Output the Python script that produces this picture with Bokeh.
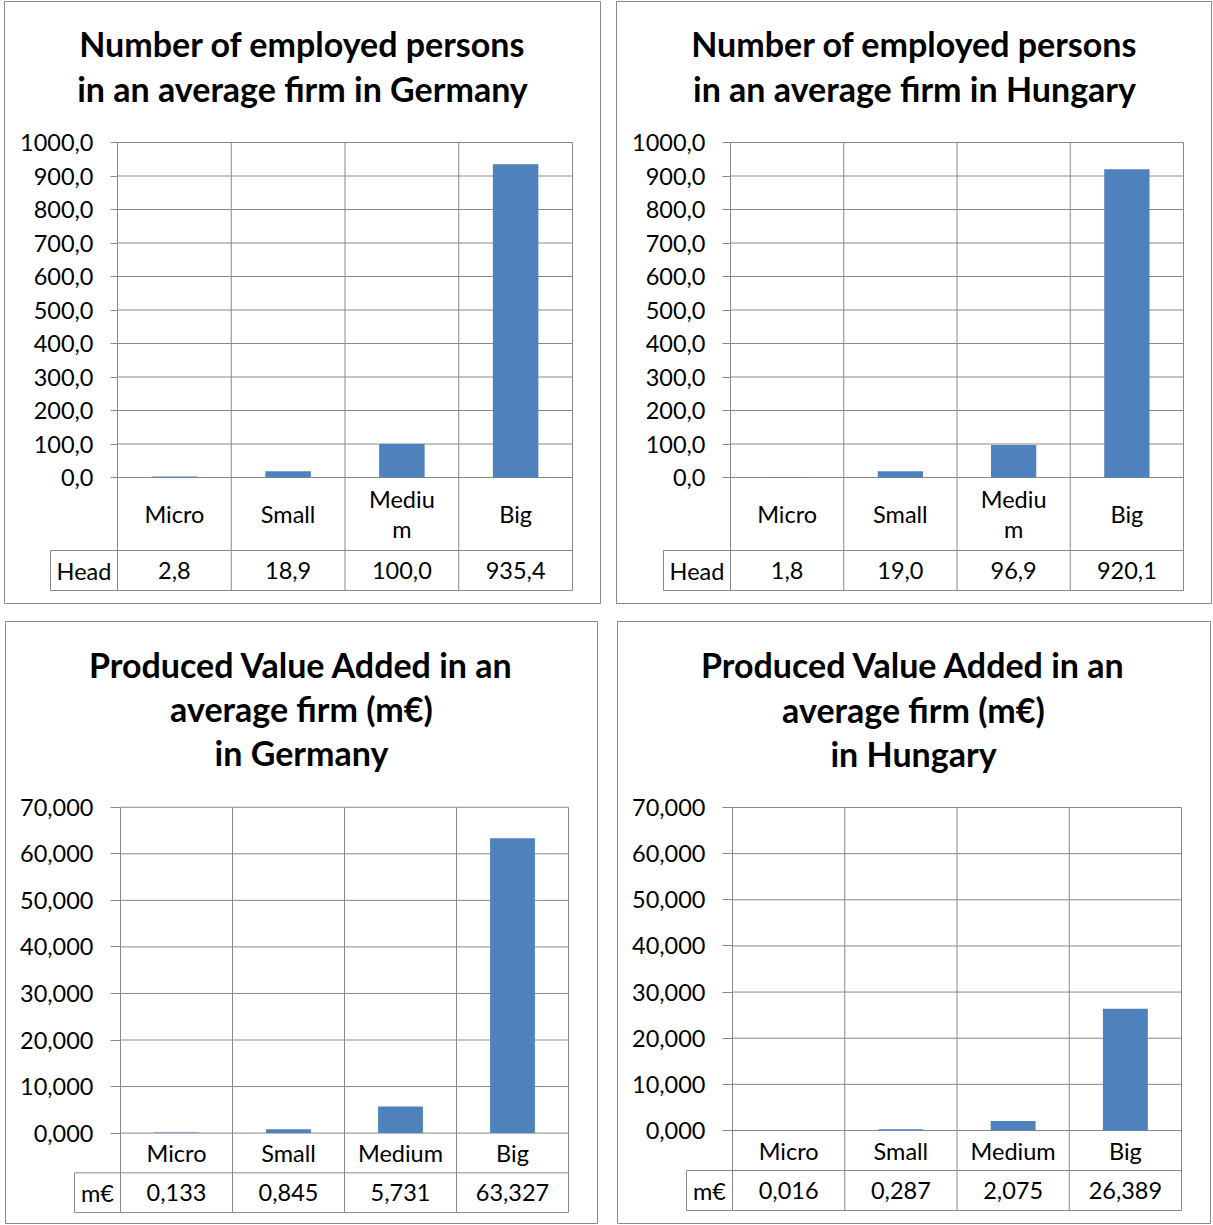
from bokeh.plotting import figure
from bokeh.layouts import column, row
from bokeh.models import Range1d, FixedTicker
from bokeh.core.properties import value
from bokeh.embed import file_html
from bokeh.resources import INLINE

# ---------------- data ----------------
CATEGORIES = ["Micro", "Small", "Medium", "Big"]
CAT_LABELS_EMP = ["Micro", "Small", "Mediu\nm", "Big"]
CAT_LABELS_VA = ["Micro", "Small", "Medium", "Big"]

GER_EMP = [2.8, 18.9, 100.0, 935.4]
HUN_EMP = [1.8, 19.0, 96.9, 920.1]
GER_VA = [0.133, 0.845, 5.731, 63.327]
HUN_VA = [0.016, 0.287, 2.075, 26.389]

GER_EMP_TEXT = ["2,8", "18,9", "100,0", "935,4"]
HUN_EMP_TEXT = ["1,8", "19,0", "96,9", "920,1"]
GER_VA_TEXT = ["0,133", "0,845", "5,731", "63,327"]
HUN_VA_TEXT = ["0,016", "0,287", "2,075", "26,389"]

EMP_TICKS = [0, 100, 200, 300, 400, 500, 600, 700, 800, 900, 1000]
EMP_TICK_LABELS = ["0,0", "100,0", "200,0", "300,0", "400,0", "500,0",
                   "600,0", "700,0", "800,0", "900,0", "1000,0"]
VA_TICKS = [0, 10, 20, 30, 40, 50, 60, 70]
VA_TICK_LABELS = ["0,000", "10,000", "20,000", "30,000", "40,000",
                  "50,000", "60,000", "70,000"]

TITLE_GER_EMP = ["Number of employed persons", "in an average firm in Germany"]
TITLE_HUN_EMP = ["Number of employed persons", "in an average firm in Hungary"]
TITLE_GER_VA = ["Produced Value Added in an", "average firm (m€)", "in Germany"]
TITLE_HUN_VA = ["Produced Value Added in an", "average firm (m€)", "in Hungary"]

ROW_LABEL_EMP = "Head"
ROW_LABEL_VA = "m€"

# ---------------- layout (pixels on the page) ----------------
LAYOUT = {
    "TL": dict(canvas=(0, 0, 608, 610), panel=(4, 1, 600, 603),
               plot=(117, 142, 572, 477), cat_bottom=550, table_bottom=590,
               head_left=50, tick_out=7, title_x=302, title_y=[43, 88]),
    "TR": dict(canvas=(608, 0, 1213, 610), panel=(616, 1, 1211, 603),
               plot=(730, 142, 1183, 477), cat_bottom=550, table_bottom=590,
               head_left=663, tick_out=8, title_x=914, title_y=[43, 88]),
    "BL": dict(canvas=(0, 610, 608, 1225), panel=(5, 617, 597, 1223),
               plot=(120, 804, 568, 1132), cat_bottom=1172, table_bottom=1212,
               head_left=74, tick_out=10, title_x=301, title_y=[660, 705, 749]),
    "BR": dict(canvas=(608, 610, 1213, 1225), panel=(617, 621, 1210, 1223),
               plot=(732, 807, 1181, 1130), cat_bottom=1170, table_bottom=1210,
               head_left=686, tick_out=10, title_x=913, title_y=[664, 709, 753]),
}

GRID = "#898989"
BAR = "#4F81BD"
FONT = "Lato"
LABEL_SIZE = "23.5px"
TITLE_SIZE = "34px"


def make_panel(cfg, values, texts, cat_labels, ticks, tick_labels, title_lines, row_label):
    cl, ct, cr, cb = cfg["canvas"]
    pl, pt, pr, pb = cfg["panel"]
    L0, T0, R0, B0 = cfg["plot"]
    n = len(values)
    ymax = ticks[-1]
    cw = (R0 - L0) / n
    ppu = (B0 - T0) / ymax

    def xd(px):
        return (px - L0) / cw

    def yd(py):
        return (B0 - py) / ppu

    p = figure(width=cr - cl, height=cb - ct, title=None,
               x_range=Range1d(xd(pl), xd(pr)), y_range=Range1d(yd(pb), yd(pt)),
               output_backend="svg", toolbar_location=None,
               min_border_left=pl - cl, min_border_right=cr - pr,
               min_border_top=pt - ct, min_border_bottom=cb - pb)
    p.outline_line_color = GRID
    p.outline_line_width = 1
    p.background_fill_color = "white"
    p.border_fill_color = "white"
    p.grid.visible = False
    p.xaxis.visible = False

    y_cat = yd(cfg["cat_bottom"])
    y_tab = yd(cfg["table_bottom"])
    x_head = xd(cfg["head_left"])

    # horizontal gridlines at ticks
    p.segment(x0=[0] * len(ticks), x1=[n] * len(ticks), y0=ticks, y1=ticks,
              line_color=GRID, line_width=1)
    # vertical lines through chart and table
    xs = list(range(n + 1))
    p.segment(x0=xs, x1=xs, y0=[ymax] * len(xs), y1=[y_tab] * len(xs),
              line_color=GRID, line_width=1)
    # table outline
    p.segment(x0=[x_head, x_head, x_head], x1=[n, n, x_head],
              y0=[y_cat, y_tab, y_cat], y1=[y_cat, y_tab, y_tab],
              line_color=GRID, line_width=1)

    centers = [i + 0.5 for i in range(n)]
    p.vbar(x=centers, top=values, bottom=0, width=0.4, fill_color=BAR, line_color=None)

    ax = p.yaxis[0]
    ax.fixed_location = 0
    ax.ticker = FixedTicker(ticks=ticks)
    ax.major_label_overrides = {t: lab for t, lab in zip(ticks, tick_labels)}
    ax.axis_line_color = None
    ax.major_tick_in = 0
    ax.major_tick_out = cfg["tick_out"]
    ax.major_tick_line_color = GRID
    ax.minor_tick_line_color = None
    ax.major_label_standoff = 17
    ax.major_label_text_font = FONT
    ax.major_label_text_font_size = LABEL_SIZE
    ax.major_label_text_color = "black"

    y_cat_c = yd((B0 + cfg["cat_bottom"]) / 2)
    y_tab_c = yd((cfg["cat_bottom"] + cfg["table_bottom"]) / 2)
    p.text(x=centers, y=[y_cat_c] * n, text=cat_labels, text_align="center",
           text_baseline="middle", text_font=value(FONT), text_font_size=LABEL_SIZE,
           text_color="black", text_line_height=1.1)
    p.text(x=centers, y=[y_tab_c] * n, text=texts, text_align="center",
           text_baseline="middle", text_font=value(FONT), text_font_size=LABEL_SIZE,
           text_color="black")
    p.text(x=[(x_head + 0) / 2], y=[y_tab_c], text=[row_label], text_align="center",
           text_baseline="middle", text_font=value(FONT), text_font_size=LABEL_SIZE,
           text_color="black")
    # chart title
    p.text(x=[xd(cfg["title_x"])] * len(title_lines), y=[yd(v) for v in cfg["title_y"]],
           text=title_lines, text_align="center", text_baseline="middle",
           text_font=value(FONT), text_font_size=TITLE_SIZE, text_font_style="bold",
           text_color="black")
    return p


p1 = make_panel(LAYOUT["TL"], GER_EMP, GER_EMP_TEXT, CAT_LABELS_EMP, EMP_TICKS,
                EMP_TICK_LABELS, TITLE_GER_EMP, ROW_LABEL_EMP)
p2 = make_panel(LAYOUT["TR"], HUN_EMP, HUN_EMP_TEXT, CAT_LABELS_EMP, EMP_TICKS,
                EMP_TICK_LABELS, TITLE_HUN_EMP, ROW_LABEL_EMP)
p3 = make_panel(LAYOUT["BL"], GER_VA, GER_VA_TEXT, CAT_LABELS_VA, VA_TICKS,
                VA_TICK_LABELS, TITLE_GER_VA, ROW_LABEL_VA)
p4 = make_panel(LAYOUT["BR"], HUN_VA, HUN_VA_TEXT, CAT_LABELS_VA, VA_TICKS,
                VA_TICK_LABELS, TITLE_HUN_VA, ROW_LABEL_VA)

layout = column(row(p1, p2, spacing=0), row(p3, p4, spacing=0), spacing=0)
open("out.html", "w").write(file_html(layout, INLINE))
